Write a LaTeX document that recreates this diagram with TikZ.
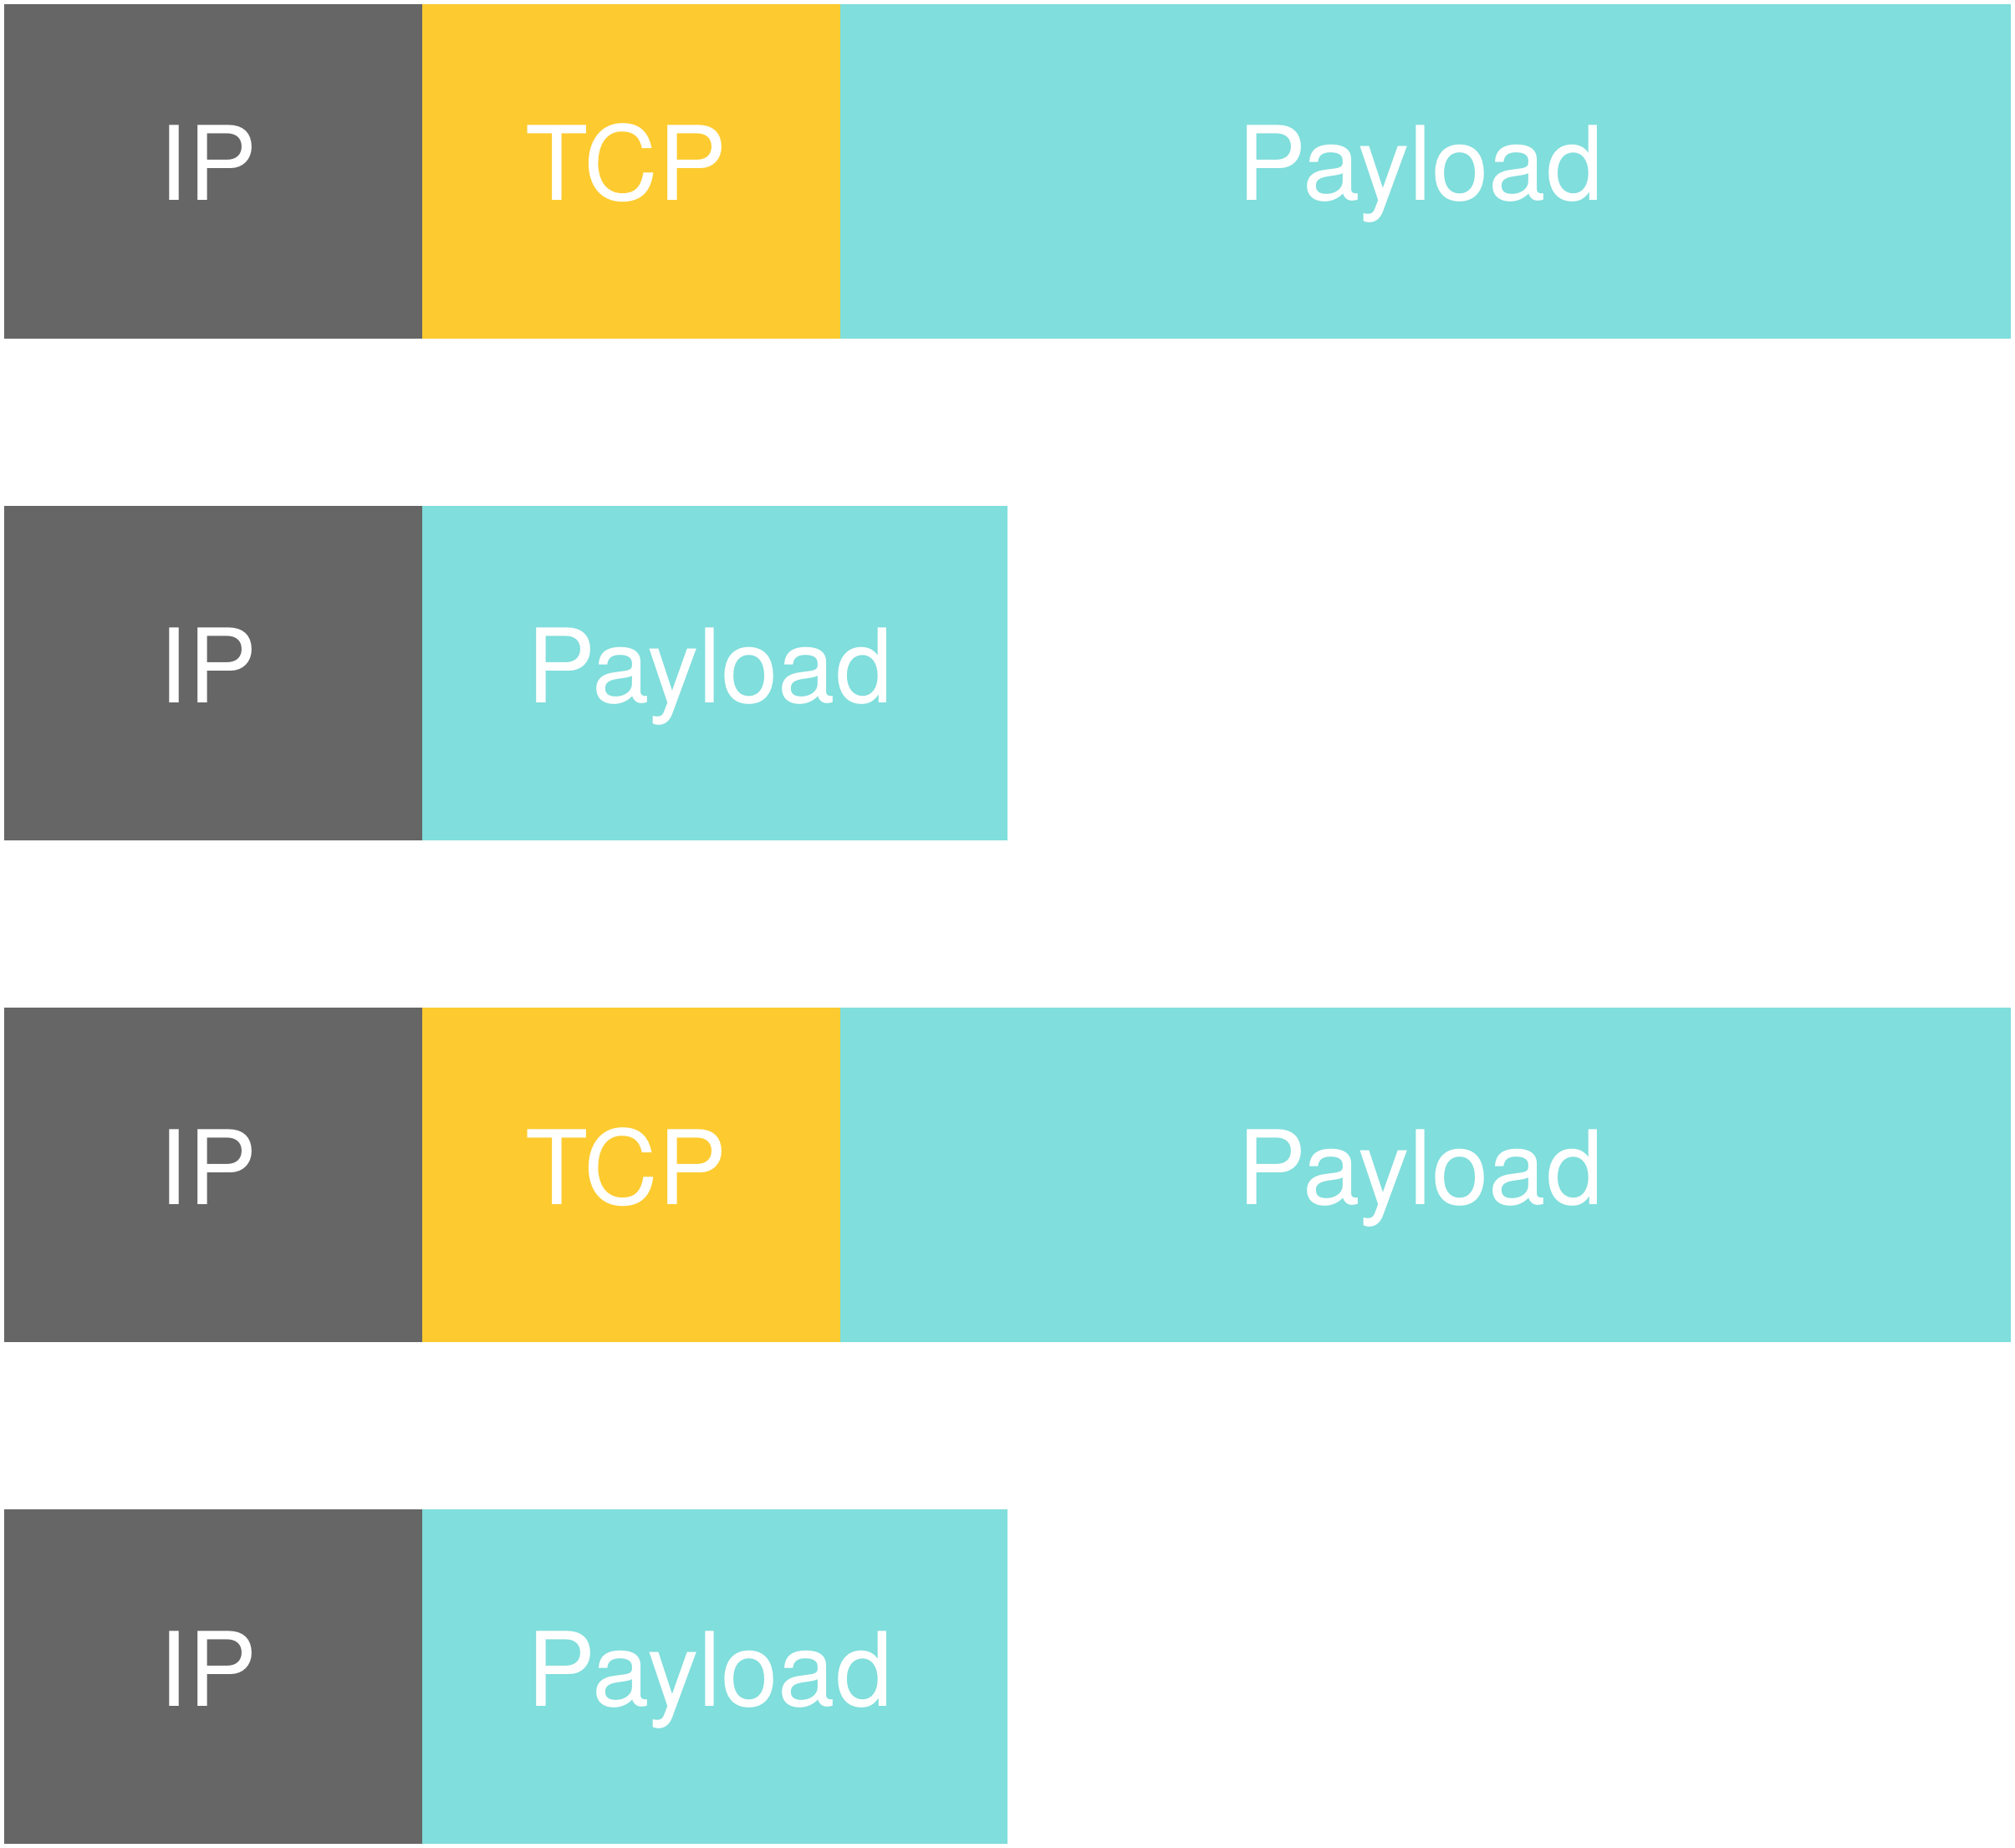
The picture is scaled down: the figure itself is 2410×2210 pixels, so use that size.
\documentclass[tikz,border=0pt]{standalone}
\usepackage{fontspec}
\setmainfont{TeX Gyre Heros}
\definecolor{hdrip}{HTML}{666666}
\definecolor{hdrtcp}{HTML}{FDCB30}
\definecolor{payld}{HTML}{80DEDC}
\begin{document}
\begin{tikzpicture}[x=1pt,y=-1pt,
  seg/.style={rectangle, anchor=north west, inner sep=0pt, outer sep=0pt,
    minimum height=400pt, text height=235pt, text depth=165pt,
    text=white, font=\fontsize{123}{140}\selectfont,
    execute at begin node={\kern-12pt}},
  ipseg/.style={seg, fill=hdrip, minimum width=500pt},
  tcpseg/.style={seg, fill=hdrtcp, minimum width=500pt},
  bigpay/.style={seg, fill=payld, minimum width=1400pt},
  smallpay/.style={seg, fill=payld, minimum width=700pt}]
\useasboundingbox (0,0) rectangle (2410,2210);
% packet 1: IP + TCP + payload
\node[ipseg]  (ip1)  at (5,5)    {IP};
\node[tcpseg] (tcp1) at (505,5)  {TCP};
\node[bigpay] (pl1)  at (1005,5) {Payload};
% packet 2: IP + payload
\node[ipseg]    (ip2) at (5,605)   {IP};
\node[smallpay] (pl2) at (505,605) {Payload};
% packet 3: IP + TCP + payload
\node[ipseg]  (ip3)  at (5,1205)    {IP};
\node[tcpseg] (tcp3) at (505,1205)  {TCP};
\node[bigpay] (pl3)  at (1005,1205) {Payload};
% packet 4: IP + payload
\node[ipseg]    (ip4) at (5,1805)   {IP};
\node[smallpay] (pl4) at (505,1805) {Payload};
\end{tikzpicture}
\end{document}
